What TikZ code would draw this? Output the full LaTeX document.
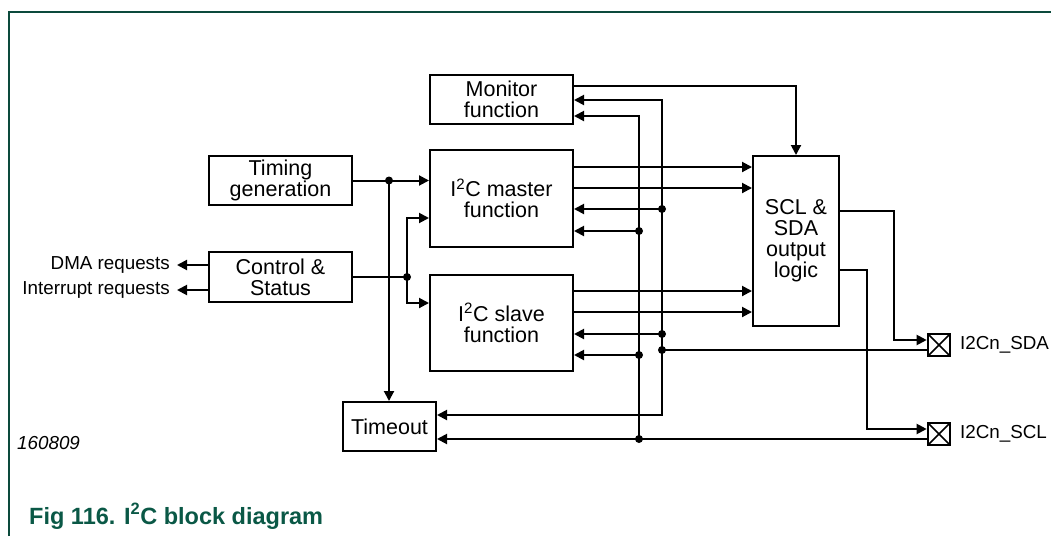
\documentclass[tikz,border=0pt]{standalone}
\usepackage{fontspec}
\setmainfont{Liberation Sans}
\usetikzlibrary{arrows.meta}
\definecolor{nxpgreen}{RGB}{10,88,70}
\definecolor{framegreen}{RGB}{12,74,60}
\begin{document}
\begin{tikzpicture}[x=1pt,y=-1pt,
  blk/.style={draw, line width=2pt, align=center, inner sep=0pt, font=\fontsize{21.5}{21}\selectfont},
  ln/.style={line width=2pt},
  arr/.style={ln, -{Triangle[length=10pt,width=10pt]}},
  jdot/.style={circle, fill, inner sep=0pt, minimum size=8pt},
  lbl/.style={inner sep=0pt, font=\fontsize{18.8}{18.8}\selectfont},
  pad/.style={draw, line width=2.6pt, minimum size=22pt, inner sep=0pt,
    path picture={\draw[line width=1.5pt] (path picture bounding box.north west) -- (path picture bounding box.south east)
      (path picture bounding box.south west) -- (path picture bounding box.north east);}}
]
\useasboundingbox (0,0) rectangle (1051,536);
% frame
\draw[framegreen, line width=2pt] (9,536) -- (9,11.5) -- (1051,11.5);

% blocks
\node[blk, minimum width=143pt, minimum height=49pt] (mon) at (501.5,99.5) {Monitor\\function};
\node[blk, minimum width=143pt, minimum height=97pt] (mas) at (501.5,198.5) {I\textsuperscript{2}C master\\function};
\node[blk, minimum width=143pt, minimum height=96pt] (sla) at (501.5,323) {I\textsuperscript{2}C slave\\function};
\node[blk, minimum width=143pt, minimum height=49pt] (tim) at (280.5,180.5) {Timing\\generation};
\node[blk, minimum width=143pt, minimum height=50pt] (ctl) at (280.5,277) {Control \&\\Status};
\node[blk, minimum width=93pt, minimum height=49pt] (tmo) at (389.5,426.5) {Timeout};
\node[blk, minimum width=86pt, minimum height=170pt] (out) at (796,241) {SCL \&\\SDA\\output\\logic};
\node[pad] (sdapad) at (939,345) {};
\node[pad] (sclpad) at (939,434) {};

% labels
\node[lbl, anchor=east] (dma) at (170,265) {DMA requests};
\node[lbl, anchor=east] (irq) at (170,290) {Interrupt requests};
\node[lbl, anchor=west] (sdal) at (960,345) {I2Cn\_SDA};
\node[lbl, anchor=west] (scll) at (960,434) {I2Cn\_SCL};
\node[inner sep=0pt, anchor=west, font=\fontsize{18.8}{18.8}\selectfont\itshape] (num) at (17,443) {160809};
\node[inner sep=0pt, anchor=base west, text=nxpgreen, font=\fontsize{23.5}{23.5}\selectfont\bfseries] (cap) at (29,524) {Fig 116. I\textsuperscript{2}C block diagram};

% coordinates
\coordinate (ymon) at (0,86);
\coordinate (jT) at (389,180.5);
\coordinate (jC) at (407,277);
\coordinate (yC1) at (0,218);
\coordinate (yC2) at (0,303);
\coordinate (ym1) at (0,167);
\coordinate (ym2) at (0,188);
\coordinate (ys1) at (0,291);
\coordinate (ys2) at (0,312);
\coordinate (bT) at (662,100);
\coordinate (b1) at (662,209);
\coordinate (b2) at (662,334);
\coordinate (b3) at (662,350);
\coordinate (bB) at (662,415);
\coordinate (aT) at (639,116);
\coordinate (a1) at (639,231);
\coordinate (a2) at (639,355);
\coordinate (a3) at (639,439);
\coordinate (s1) at (894,211);
\coordinate (s2) at (894,340);
\coordinate (c1) at (867,270);
\coordinate (c2) at (867,429);

% connectors
\draw[arr] (mon.east |- ymon) -| (out.north);
\draw[arr] (tim.east) -- (mas.west |- tim.east);
\draw[arr] (jT) -- (tmo.north -| jT);
\draw[ln] (ctl.east) -- (jC);
\draw[arr] (jC) |- (mas.west |- yC1);
\draw[arr] (jC) |- (sla.west |- yC2);
\draw[arr, shorten >=7pt] (ctl.west |- dma.east) -- (dma.east);
\draw[arr, shorten >=7pt] (ctl.west |- irq.east) -- (irq.east);

\draw[arr] (mas.east |- ym1) -- (out.west |- ym1);
\draw[arr] (mas.east |- ym2) -- (out.west |- ym2);
\draw[arr] (sla.east |- ys1) -- (out.west |- ys1);
\draw[arr] (sla.east |- ys2) -- (out.west |- ys2);

% bus B
\draw[arr] (b3) -- (bT) -- (mon.east |- bT);
\draw[arr] (b3) -- (bB) -- (tmo.east |- bB);
\draw[arr] (b1) -- (mas.east |- b1);
\draw[arr] (b2) -- (sla.east |- b2);
\draw[ln] (sdapad.west |- b3) -- (b3);
% bus A
\draw[arr] (a3) -- (aT) -- (mon.east |- aT);
\draw[arr] (a1) -- (mas.east |- a1);
\draw[arr] (a2) -- (sla.east |- a2);
\draw[arr] (sclpad.west |- a3) -- (tmo.east |- a3);

% outputs to pads
\draw[arr] (out.east |- s1) -- (s1) -- (s2) -- (sdapad.west |- s2);
\draw[arr] (out.east |- c1) -- (c1) -- (c2) -- (sclpad.west |- c2);

% junction dots
\foreach \p in {jT,jC,b1,b2,b3,a1,a2,a3} \node[jdot] at (\p) {};
\end{tikzpicture}
\end{document}
